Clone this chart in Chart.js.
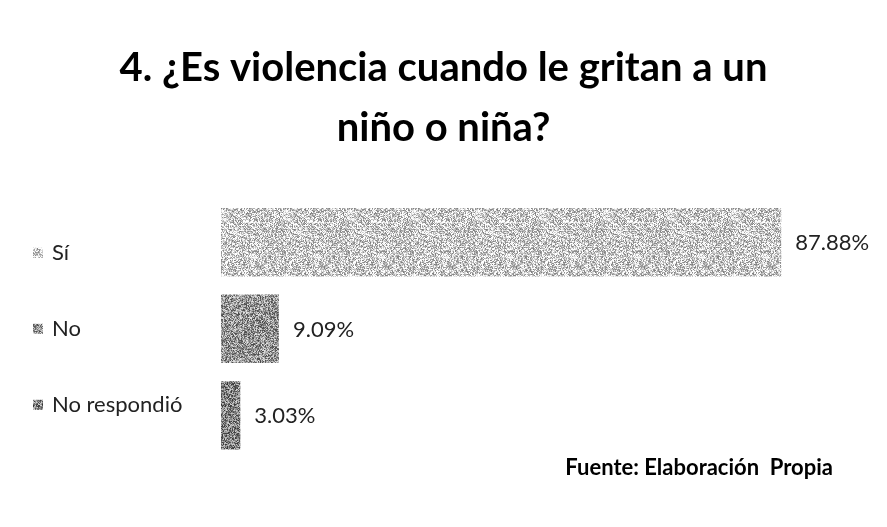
<!DOCTYPE html>
<html>
<head>
<meta charset="utf-8">
<script src="https://cdn.jsdelivr.net/npm/chart.js@4"></script>
<style>
  html, body { margin: 0; padding: 0; background: #fff; }
  #wrap { width: 887px; height: 527px; }
</style>
</head>
<body>
<div id="wrap"><canvas id="myChart"></canvas></div>
<script>
// chart data
var categories = ['Sí', 'No', 'No respondió'];
var percentages = [87.88, 9.09, 3.03];
var valueLabels = ['87.88%', '9.09%', '3.03%'];
var titleLines = ['4. ¿Es violencia cuando le gritan a un', 'niño o niña?'];
var sourceText = 'Fuente: Elaboración  Propia';

var barGrays = [[205, 205, 205], [150, 150, 150], [130, 130, 130]];

// grainy fill like the scanned print
function grainPattern(rgb, seed) {
  var c = document.createElement('canvas');
  c.width = 64; c.height = 64;
  var g = c.getContext('2d');
  var img = g.createImageData(64, 64);
  var s = seed;
  for (var i = 0; i < 64 * 64; i++) {
    s = (s * 1103515245 + 12345) & 0x7fffffff;
    var n = ((s >> 8) % 160) - 80;
    for (var k = 0; k < 3; k++) {
      img.data[i * 4 + k] = Math.max(0, Math.min(255, rgb[k] + n));
    }
    img.data[i * 4 + 3] = 255;
  }
  g.putImageData(img, 0, 0);
  return g.createPattern(c, 'repeat');
}

var fills = barGrays.map(function(rgb, i) { return grainPattern(rgb, 7 + i * 31); });

var FONT = 'Lato, "Open Sans", sans-serif';

// left side legend with small markers
var sideLegend = {
  id: 'sideLegend',
  afterDraw: function(chart) {
    var ctx = chart.ctx;
    var area = chart.chartArea;
    var mid = (area.top + area.bottom) / 2;
    var step = 76;
    ctx.save();
    ctx.font = '22px ' + FONT;
    ctx.textBaseline = 'middle';
    categories.forEach(function(cat, i) {
      var y = mid + (i - 1) * step;
      ctx.fillStyle = fills[i];
      ctx.fillRect(33, y - 5, 10, 10);
      ctx.fillStyle = '#222';
      ctx.fillText(cat, 52, y);
    });
    ctx.restore();
  }
};

// value labels after each bar
var barValues = {
  id: 'barValues',
  afterDatasetsDraw: function(chart) {
    var ctx = chart.ctx;
    var meta = chart.getDatasetMeta(0);
    ctx.save();
    ctx.font = '22px ' + FONT;
    ctx.textBaseline = 'middle';
    ctx.fillStyle = '#222';
    meta.data.forEach(function(bar, i) {
      ctx.fillText(valueLabels[i], bar.x + 14, bar.y + 1);
    });
    ctx.restore();
  }
};

var ctx = document.getElementById('myChart');
var myChart = new Chart(ctx, {
  type: 'bar',
  data: {
    labels: categories,
    datasets: [{
      data: percentages,
      backgroundColor: fills,
      borderWidth: 0,
      barPercentage: 0.79,
      categoryPercentage: 1
    }]
  },
  options: {
    indexAxis: 'y',
    responsive: true,
    maintainAspectRatio: false,
    animation: false,
    layout: { padding: { left: 54, right: 54, top: 0, bottom: 0 } },
    scales: {
      x: { display: false, min: 0, max: 96 },
      y: {
        grid: { display: false },
        border: { display: false },
        ticks: { display: false },
        afterFit: function(scale) { scale.width = 167; }
      }
    },
    plugins: {
      legend: { display: false },
      tooltip: { enabled: false },
      title: {
        display: true,
        text: titleLines,
        color: '#000',
        font: { family: FONT, size: 40, weight: 'bold', lineHeight: 1.5 },
        padding: { top: 38, bottom: 41 }
      },
      subtitle: {
        display: true,
        position: 'bottom',
        align: 'end',
        text: sourceText,
        color: '#000',
        font: { family: FONT, size: 22, weight: 'bold', lineHeight: 1.2 },
        padding: { top: -4, bottom: 46 }
      }
    }
  },
  plugins: [sideLegend, barValues]
});
</script>
</body>
</html>
